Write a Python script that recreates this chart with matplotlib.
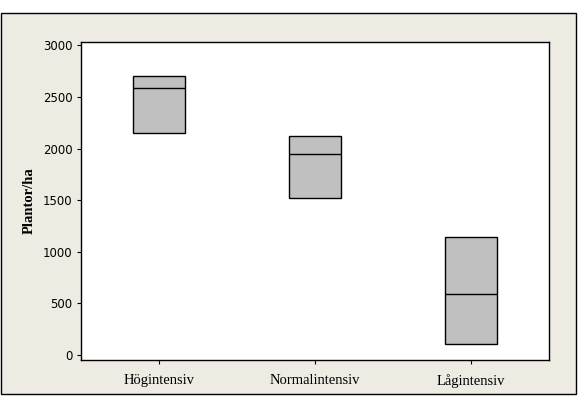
import matplotlib.pyplot as plt
from matplotlib.patches import Rectangle

# Data (box = Q1..Q3, line = median)
groups = ['Högintensiv', 'Normalintensiv', 'Lågintensiv']
q1 = [2152, 1521, 104]
median = [2589, 1948, 589]
q3 = [2706, 2123, 1143]
yticks = [0, 500, 1000, 1500, 2000, 2500, 3000]

fig = plt.figure(figsize=(5.86, 4.04), dpi=100)
fig.patch.set_facecolor('white')

# beige outer frame
frame = Rectangle((1 / 586, 1 - 394 / 404), 575 / 586, 381 / 404,
                  transform=fig.transFigure, facecolor='#EEEBE3',
                  edgecolor='black', linewidth=1.0, zorder=-1)
fig.add_artist(frame)

ax = fig.add_axes([81 / 586, 1 - 360 / 404, 468 / 586, 318 / 404])
ax.set_facecolor('white')

stats = []
for g, a, m, b in zip(groups, q1, median, q3):
    stats.append({'label': g, 'q1': a, 'med': m, 'q3': b,
                  'whislo': a, 'whishi': b, 'fliers': []})

ax.bxp(stats, positions=[1, 2, 3], widths=0.335, patch_artist=True,
       showcaps=False, showfliers=False,
       boxprops=dict(facecolor='#C0C0C0', edgecolor='black', linewidth=1.0),
       medianprops=dict(color='black', linewidth=1.0),
       whiskerprops=dict(linewidth=0))

ax.set_xlim(0.5, 3.5)
ax.set_ylim(-48, 3032)
ax.set_yticks(yticks)
ax.set_yticklabels([str(v) for v in yticks], fontsize=8.5, family='DejaVu Sans')
ax.set_xticks([1, 2, 3])
ax.set_xticklabels(groups, fontsize=10.5, family='Liberation Serif')
ax.tick_params(axis='y', direction='out', length=3, width=0.8, pad=3)
ax.tick_params(axis='x', direction='out', length=3, width=0.8, pad=7)

for s in ax.spines.values():
    s.set_linewidth(1.0)

ax.set_ylabel('Plantor/ha', fontsize=10.5, family='Liberation Serif',
              fontweight='bold', labelpad=5)

fig.savefig('out.png', dpi=100)
